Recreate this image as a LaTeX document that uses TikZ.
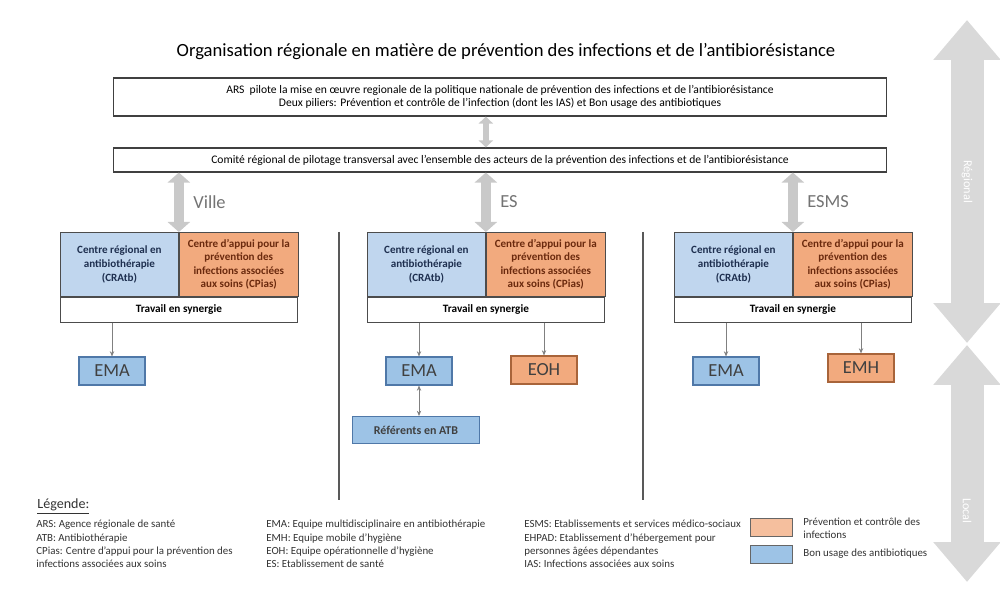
\documentclass[tikz,border=0pt]{standalone}
\usepackage{fontspec}
\setmainfont{Carlito}
\usepackage{tikz}
\usetikzlibrary{arrows.meta,positioning}

\definecolor{bleuclair}{HTML}{C0D6EE}
\definecolor{bleuequipe}{HTML}{9DC3E6}
\definecolor{bordbleu}{HTML}{4F78A8}
\definecolor{orangeclair}{HTML}{F2AA7E}
\definecolor{bordorange}{HTML}{A8643A}
\definecolor{grisfleche}{HTML}{C9C9C9}
\definecolor{texteorange}{HTML}{6B2A0E}
\definecolor{textebleu}{HTML}{1E2F4F}

\tikzset{
  titre/.style={font=\fontsize{10.6}{12}\selectfont, inner sep=0pt},
  cadre/.style={draw=black!75, line width=0.6pt, fill=white, align=center, inner sep=1pt},
  cratb/.style={draw=black!70, line width=0.5pt, fill=bleuclair, text=textebleu, align=center,
    minimum width=2.36cm, minimum height=1.28cm, inner sep=1pt,
    font=\bfseries\fontsize{6.3}{7.7}\selectfont},
  cpias/.style={cratb, fill=orangeclair, text=texteorange, minimum width=2.38cm},
  synergie/.style={draw=black!70, line width=0.5pt, fill=white, minimum width=4.74cm,
    minimum height=0.5cm, inner sep=1pt, font=\bfseries\fontsize{6.4}{7.5}\selectfont},
  ema/.style={draw=bordbleu, line width=0.6pt, fill=bleuequipe, text=black!75,
    minimum width=1.32cm, minimum height=0.56cm, inner sep=1pt, font=\fontsize{10.5}{12}\selectfont},
  eoh/.style={ema, draw=bordorange, fill=orangeclair},
  referent/.style={ema, minimum width=2.54cm, minimum height=0.54cm,
    font=\bfseries\fontsize{6.8}{8}\selectfont},
  zone/.style={text=black!55, inner sep=0pt, font=\fontsize{10.5}{12}\selectfont},
  pilier/.style={grisfleche, line width=0.2cm, {Triangle[width=0.44cm,length=0.2cm]}-{Triangle[width=0.44cm,length=0.2cm]}},
  lien/.style={black!50, line width=0.5pt, -{Stealth[length=3pt,width=2.5pt]}},
  separ/.style={black!65, line width=1pt},
  niveau/.style={black!15, line width=0.66cm, {Triangle[width=1.3cm,length=0.8cm]}-{Triangle[width=1.3cm,length=0.8cm]}},
  legtexte/.style={align=left, inner sep=0pt, text=black!80, font=\fontsize{6.2}{7.6}\selectfont},
  swatch/.style={draw=black!60, line width=0.4pt, minimum width=0.84cm, minimum height=0.36cm, inner sep=0pt}
}

\begin{document}
\begin{tikzpicture}[x=0.02cm,y=-0.02cm]
  \useasboundingbox (0,0) rectangle (1000,590);

  \node[titre] (titre) at (506,52) {Organisation régionale en matière de prévention des infections et de l’antibiorésistance};

  % niveau regional
  \node[cadre, minimum width=15.48cm, minimum height=0.76cm, font=\fontsize{6.6}{7.6}\selectfont] (ars) at (500,97)
    {ARS\ \ pilote la mise en œuvre regionale de la politique nationale de prévention des infections et de l’antibiorésistance\\
     Deux piliers: Prévention et contrôle de l’infection (dont les IAS) et Bon usage des antibiotiques};
  \node[cadre, minimum width=15.48cm, minimum height=0.48cm, font=\fontsize{6.6}{7.6}\selectfont] (comite) at (500,160)
    {Comité régional de pilotage transversal avec l’ensemble des acteurs de la prévention des infections et de l’antibiorésistance};

  % les trois secteurs
  \foreach \c/\x/\lbl in {ville/60/Ville,es/367/ES,esms/674/ESMS}{
    \node[cratb, anchor=north west] (cratb\c) at (\x,232) {Centre régional en\\antibiothérapie\\(CRAtb)};
    \node[cpias, right=0pt of cratb\c] (cpias\c) {Centre d’appui pour la\\prévention des\\infections associées\\aux soins (CPias)};
    \node[synergie, anchor=north west] (syn\c) at (cratb\c.south west) {Travail en synergie};
    \node[ema] (ema\c) at (\x+52,371) {EMA};
    \node[zone, anchor=west] (zone\c) at (\x+133,202) {\lbl};
    \draw[lien] (syn\c.south -| ema\c) -- (ema\c);
    \draw[pilier] (comite.south -| cratb\c.east) -- (cratb\c.north east);
  }
  \draw[grisfleche, line width=0.12cm, {Triangle[width=0.28cm,length=0.14cm]}-{Triangle[width=0.28cm,length=0.14cm]}]
    (ars.south -| cratbes.east) -- (comite.north -| cratbes.east);

  \node[eoh] (eohes) at (544,370) {EOH};
  \node[eoh] (emhesms) at (861,368) {EMH};
  \node[referent] (refes) at (416,430) {Référents en ATB};
  \draw[lien] (synes.south -| eohes) -- (eohes);
  \draw[lien] (synesms.south -| emhesms) -- (emhesms);
  \draw[lien, {Stealth[length=3pt,width=2.5pt]}-{Stealth[length=3pt,width=2.5pt]}] (emaes.south) -- (emaes.south |- refes.north);

  \draw[separ] (339,232) -- (339,500);
  \draw[separ] (643,232) -- (643,500);

  % fleches de droite
  \coordinate (hautA) at (967,20);
  \coordinate (basA) at (967,343);
  \coordinate (hautB) at (967,345);
  \coordinate (basB) at (967,582);
  \draw[niveau] (hautA) -- node[sloped, text=white, font=\fontsize{7}{8}\selectfont] {Régional} (basA);
  \draw[niveau] (hautB) -- node[sloped, pos=0.7, text=white, font=\fontsize{7}{8}\selectfont] {Local} (basB);

  % legende
  \node[anchor=west, inner sep=0pt, text=black!80, font=\fontsize{8}{9}\selectfont] (legende) at (37,507) {\underline{Légende:}};
  \node[legtexte, anchor=north west] (leg1) at (36,520)
    {ARS: Agence régionale de santé\\ATB: Antibiothérapie\\CPias: Centre d’appui pour la prévention des\\infections associées aux soins};
  \node[legtexte, anchor=north west] (leg2) at (266,520)
    {EMA: Equipe multidisciplinaire en antibiothérapie\\EMH: Equipe mobile d’hygiène\\EOH: Equipe opérationnelle d’hygiène\\ES: Etablissement de santé};
  \node[legtexte, anchor=north west] (leg3) at (524,520)
    {ESMS: Etablissements et services médico-sociaux\\EHPAD: Etablissement d’hébergement pour\\personnes âgées dépendantes\\IAS: Infections associées aux soins};
  \node[swatch, fill=orangeclair!75] (legorange) at (771,527) {};
  \node[swatch, fill=bleuequipe] (legbleu) at (771,554) {};
  \node[legtexte, anchor=west] (legtxtorange) at (803,528) {Prévention et contrôle des\\infections};
  \node[legtexte, anchor=west] (legtxtbleu) at (803,554) {Bon usage des antibiotiques};
\end{tikzpicture}
\end{document}
